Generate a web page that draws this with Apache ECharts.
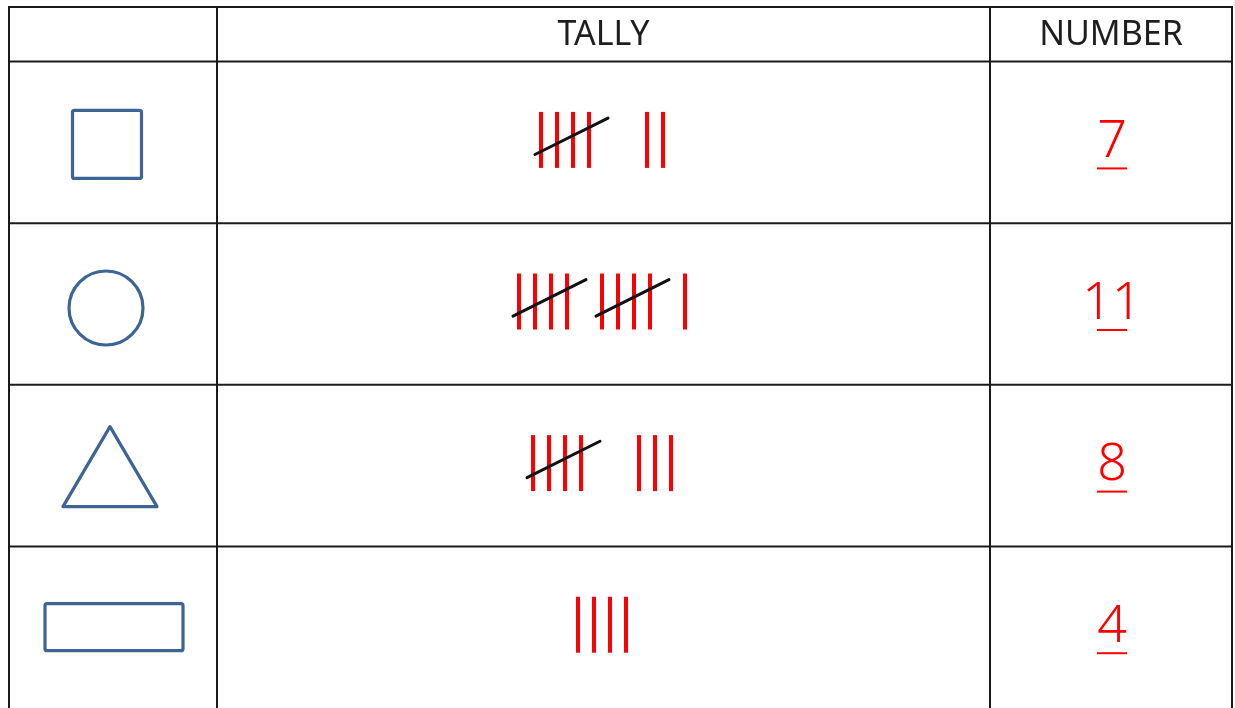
<!DOCTYPE html>
<html>
<head>
<meta charset="utf-8">
<script src="https://cdn.jsdelivr.net/npm/echarts@6/dist/echarts.min.js"></script>
<style>
  html, body { margin: 0; padding: 0; background: #ffffff; }
  #chart { width: 1235px; height: 708px; }
</style>
</head>
<body>
<div id="chart"></div>
<script>
// ---- data ----
const headers = ['', 'TALLY', 'NUMBER'];
const shapes = ['square', 'circle', 'triangle', 'rectangle'];
const tallyCounts = [7, 11, 8, 4];
const numberLabels = ['7', '11', '8', '4'];

// ---- layout / style (not data) ----
const COL_EDGES = [0, 208, 981, 1223];   // x-axis units (px-like)
const HEADER_H = 0.338;                  // y-axis units (1 = one row)
const LINE_COLOR = '#1a1a1a';
const SHAPE_COLOR = '#3d6495';
const TALLY_COLOR = '#ff0000';
const FONT = "'Noto Sans', 'DejaVu Sans', sans-serif";
const SHAPE_STYLE = {
  square:    { dx: -6, dy: 2,  w: 69, h: 68 },
  circle:    { dx: -7, dy: 4,  r: 37 },
  triangle:  { dx: -3, dy: 1,  w: 94, h: 80 },
  rectangle: { dx: 1,  dy: 0,  w: 138, h: 47 }
};
const STROKE_GAP = 16, STROKE_H = 56;

const colCenter = c => (COL_EDGES[c] + COL_EDGES[c + 1]) / 2;

const chart = echarts.init(document.getElementById('chart'), null, { renderer: 'canvas' });

const option = {
  animation: false,
  backgroundColor: '#ffffff',
  grid: { left: 9, top: 7, width: 1223, height: 705 },
  xAxis: { type: 'value', min: COL_EDGES[0], max: COL_EDGES[3], show: false },
  yAxis: { type: 'value', min: -HEADER_H, max: tallyCounts.length, inverse: true, show: false },
  series: [
    // table lines + header
    {
      type: 'custom', clip: false, silent: true,
      data: [[0, 0]],
      renderItem: function (params, api) {
        const children = [];
        const nRows = tallyCounts.length;
        const hLines = [-HEADER_H];
        for (let r = 0; r < nRows; r++) hLines.push(r);
        hLines.forEach(y => {
          const a = api.coord([COL_EDGES[0], y]);
          const b = api.coord([COL_EDGES[3], y]);
          children.push({ type: 'line', shape: { x1: a[0] - 1, y1: a[1], x2: b[0] + 1, y2: b[1] },
            style: { stroke: LINE_COLOR, lineWidth: 2 } });
        });
        COL_EDGES.forEach(x => {
          const a = api.coord([x, -HEADER_H]);
          const b = api.coord([x, nRows]);
          children.push({ type: 'line', shape: { x1: a[0], y1: a[1] - 1, x2: b[0], y2: b[1] },
            style: { stroke: LINE_COLOR, lineWidth: 2 } });
        });
        headers.forEach((h, c) => {
          if (!h) return;
          const p = api.coord([colCenter(c), -HEADER_H / 2]);
          children.push({ type: 'text', x: p[0], y: p[1] + 1,
            style: { text: h, fill: '#1e1e1e', font: '400 34px ' + FONT, align: 'center', verticalAlign: 'middle' } });
        });
        return { type: 'group', children: children };
      }
    },
    // shapes
    {
      type: 'custom', clip: false, silent: true,
      data: shapes.map((s, i) => [colCenter(0), i + 0.5, i]),
      renderItem: function (params, api) {
        const i = api.value(2);
        const kind = shapes[i];
        const st = SHAPE_STYLE[kind];
        const p = api.coord([api.value(0), api.value(1)]);
        const cx = p[0] + st.dx, cy = p[1] + st.dy;
        const style = { stroke: SHAPE_COLOR, lineWidth: 3.2, fill: 'none' };
        if (kind === 'circle') {
          return { type: 'circle', shape: { cx: cx, cy: cy, r: st.r }, style: style };
        }
        if (kind === 'triangle') {
          return { type: 'polygon', shape: { points: [[cx, cy - st.h / 2], [cx + st.w / 2, cy + st.h / 2], [cx - st.w / 2, cy + st.h / 2]] },
            style: Object.assign({ lineJoin: 'round' }, style) };
        }
        return { type: 'rect', shape: { x: cx - st.w / 2, y: cy - st.h / 2, width: st.w, height: st.h, r: 2 }, style: style };
      }
    },
    // tally marks
    {
      type: 'custom', clip: false, silent: true,
      data: tallyCounts.map((c, i) => [colCenter(1), i + 0.5, c]),
      renderItem: function (params, api) {
        const n = api.value(2);
        const p = api.coord([api.value(0), api.value(1)]);
        const full = Math.floor(n / 5), rem = n % 5;
        const groupGap = full >= 2 ? 35 : 58;
        const groups = [];
        for (let g = 0; g < full; g++) groups.push({ count: 4, slash: true });
        if (rem) groups.push({ count: rem, slash: false });
        let width = 0;
        groups.forEach((g, k) => { width += (g.count - 1) * STROKE_GAP; if (k < groups.length - 1) width += groupGap; });
        const top = p[1] - 2.5 - STROKE_H / 2;
        let x = p[0] - 1.5 - width / 2;
        const strokes = [], slashes = [];
        groups.forEach((g, k) => {
          const x0 = x;
          for (let s = 0; s < g.count; s++) {
            strokes.push({ type: 'line', shape: { x1: x, y1: top, x2: x, y2: top + STROKE_H },
              style: { stroke: TALLY_COLOR, lineWidth: 4 } });
            if (s < g.count - 1) x += STROKE_GAP;
          }
          if (g.slash) {
            slashes.push({ type: 'line', shape: { x1: x0 - 6, y1: top + STROKE_H * 0.76, x2: x + 19, y2: top + STROKE_H * 0.11 },
              style: { stroke: '#111111', lineWidth: 3, lineCap: 'round' } });
          }
          x += groupGap;
        });
        return { type: 'group', children: strokes.concat(slashes) };
      }
    },
    // numbers
    {
      type: 'custom', clip: false, silent: true,
      data: numberLabels.map((t, i) => [colCenter(2), i + 0.5, i]),
      renderItem: function (params, api) {
        const i = api.value(2);
        const p = api.coord([api.value(0), api.value(1)]);
        return { type: 'group', children: [
          { type: 'text', x: p[0] + 1, y: p[1],
            style: { text: numberLabels[i], fill: TALLY_COLOR, font: '300 52px ' + FONT, align: 'center', verticalAlign: 'middle' } },
          { type: 'line', shape: { x1: p[0] - 14, y1: p[1] + 26, x2: p[0] + 16, y2: p[1] + 26 },
            style: { stroke: TALLY_COLOR, lineWidth: 2 } }
        ] };
      }
    }
  ]
};
chart.setOption(option);
</script>
</body>
</html>
